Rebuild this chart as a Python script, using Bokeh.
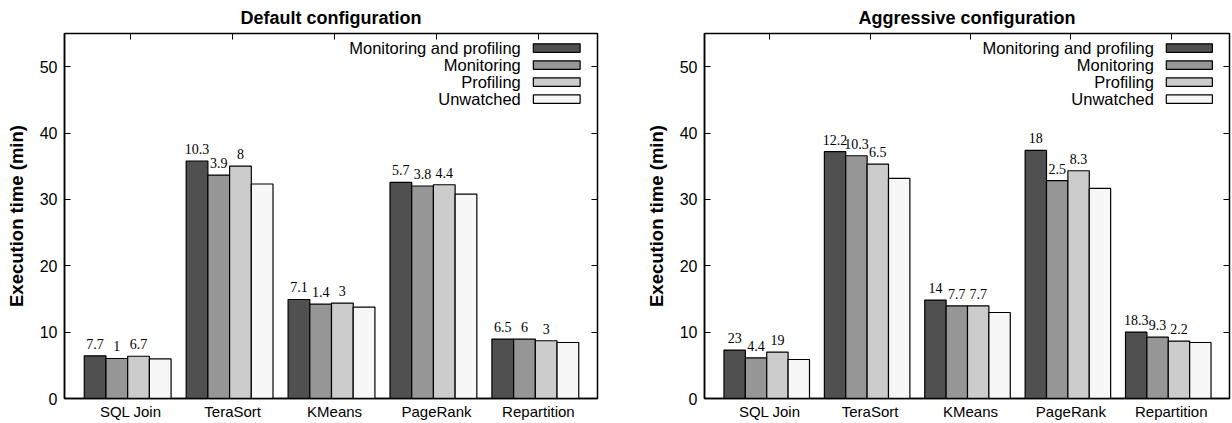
from bokeh.plotting import figure
from bokeh.layouts import row
from bokeh.models import Range1d, FixedTicker, LinearAxis, CustomJSTickFormatter
from bokeh.core.properties import value
from bokeh.embed import file_html
from bokeh.resources import INLINE

# ---------------- data ----------------
categories = ["SQL Join", "TeraSort", "KMeans", "PageRank", "Repartition"]
series = ["Monitoring and profiling", "Monitoring", "Profiling", "Unwatched"]
colors = ["#505050", "#969696", "#cccccc", "#f7f7f7"]

default_mp = [6.43, 35.79, 14.92, 32.56, 8.95]
default_m = [6.03, 33.67, 14.23, 32.02, 8.95]
default_p = [6.37, 35.03, 14.38, 32.21, 8.70]
default_u = [5.97, 32.32, 13.78, 30.81, 8.44]
default_lbl_mp = ["7.7", "10.3", "7.1", "5.7", "6.5"]
default_lbl_m = ["1", "3.9", "1.4", "3.8", "6"]
default_lbl_p = ["6.7", "8", "3", "4.4", "3"]

aggr_mp = [7.29, 37.19, 14.83, 37.38, 10.01]
aggr_m = [6.13, 36.58, 13.97, 32.82, 9.25]
aggr_p = [6.99, 35.33, 13.97, 34.32, 8.65]
aggr_u = [5.88, 33.16, 12.96, 31.66, 8.44]
aggr_lbl_mp = ["23", "12.2", "14", "18", "18.3"]
aggr_lbl_m = ["4.4", "10.3", "7.7", "2.5", "9.3"]
aggr_lbl_p = ["19", "6.5", "7.7", "8.3", "2.2"]

y_ticks = [0, 10, 20, 30, 40, 50]

# ---------------- style / layout constants ----------------
SANS = "Liberation Sans"
SERIF = "Liberation Serif"
BAR_W = 0.213
TICK_SHIFT = 0.03
X0, X1 = -0.62, 4.61
Y0, Y1 = 0, 55


def make_panel(title, values, labels, width, border_left, border_right):
    p = figure(width=width, height=423, output_backend="svg", toolbar_location=None,
               x_range=Range1d(X0, X1), y_range=Range1d(Y0, Y1),
               min_border_left=border_left, min_border_right=border_right,
               min_border_top=33, min_border_bottom=25)
    p.title.text = title
    p.title.align = "center"
    p.title.text_font = SANS
    p.title.text_font_size = "18px"
    p.title.text_font_style = "bold"
    p.title.text_color = "black"
    p.title.standoff = 11

    p.xgrid.visible = False
    p.ygrid.visible = False
    p.outline_line_color = "black"
    p.outline_line_width = 1.5
    p.outline_line_alpha = 1.0
    p.background_fill_color = "white"
    p.border_fill_color = "white"

    n = len(categories)
    # bars
    for j in range(len(series)):
        xs = [i + (j - 1.5) * BAR_W for i in range(n)]
        p.vbar(x=xs, top=values[j], width=BAR_W, bottom=0,
               fill_color=colors[j], line_color="black", line_width=1.2)
    # value labels (drawn after all bars)
    for j in range(len(labels)):
        xs = [i + (j - 1.5) * BAR_W for i in range(n)]
        p.text(x=xs, y=values[j], text=labels[j], text_align="center",
               text_baseline="alphabetic", y_offset=-12,
               text_font=value(SERIF), text_font_size="14px", text_color="black")

    # manual legend (text then swatch, top right)
    for k, name in enumerate(series):
        ly = 52.8 - 2.56 * k
        p.rect(x=[X1 - 0.40], y=[ly], width=0.459, height=1.28,
               fill_color=colors[k], line_color="black", line_width=1.2)
        p.text(x=[X1 - 0.753], y=[ly], text=[name], text_align="right",
               text_baseline="middle", text_font=value(SANS),
               text_font_size="16.5px", text_color="black")

    cat_ticks = [i + TICK_SHIFT for i in range(n)]
    fmt = CustomJSTickFormatter(args=dict(names=categories),
                                code="return names[Math.round(tick)];")
    xa = p.xaxis[0]
    xa.ticker = FixedTicker(ticks=cat_ticks)
    xa.formatter = fmt
    xa.major_tick_in = 0
    xa.major_tick_out = 0
    xa.minor_tick_in = 0
    xa.minor_tick_out = 0
    xa.major_label_standoff = 4
    xa.major_label_text_font = SANS
    xa.major_label_text_font_size = "15px"
    xa.major_label_text_color = "black"
    xa.axis_line_color = "black"
    xa.axis_line_width = 1.5

    ya = p.yaxis[0]
    ya.ticker = FixedTicker(ticks=y_ticks)
    ya.major_tick_in = 6
    ya.major_tick_out = 0
    ya.minor_tick_in = 0
    ya.minor_tick_out = 0
    ya.major_tick_line_color = "black"
    ya.major_label_standoff = 7
    ya.major_label_text_font = SANS
    ya.major_label_text_font_size = "16px"
    ya.major_label_text_color = "black"
    ya.axis_line_color = "black"
    ya.axis_line_width = 1.5
    ya.axis_label = "Execution time (min)"
    ya.axis_label_text_font = SANS
    ya.axis_label_text_font_size = "18.5px"
    ya.axis_label_text_font_style = "bold"
    ya.axis_label_text_color = "black"
    ya.axis_label_standoff = 10

    empty = CustomJSTickFormatter(code="return '';")
    right = LinearAxis(ticker=FixedTicker(ticks=y_ticks[1:]), formatter=empty,
                       major_tick_in=6, major_tick_out=0, minor_tick_in=0, minor_tick_out=0,
                       major_label_text_font_size="0px", major_label_standoff=0,
                       axis_line_color=None, major_tick_line_color="black")
    p.add_layout(right, "right")
    top = LinearAxis(ticker=FixedTicker(ticks=cat_ticks), formatter=empty,
                     major_tick_in=6, major_tick_out=0, minor_tick_in=0, minor_tick_out=0,
                     major_label_text_font_size="0px", major_label_standoff=0,
                     axis_line_color=None, major_tick_line_color="black")
    p.add_layout(top, "above")
    return p


left = make_panel("Default configuration",
                  [default_mp, default_m, default_p, default_u],
                  [default_lbl_mp, default_lbl_m, default_lbl_p],
                  width=642, border_left=64, border_right=45)
right = make_panel("Aggressive configuration",
                   [aggr_mp, aggr_m, aggr_p, aggr_u],
                   [aggr_lbl_mp, aggr_lbl_m, aggr_lbl_p],
                   width=590, border_left=56, border_right=3)

layout = row(left, right)
open("out.html", "w").write(file_html(layout, INLINE))
